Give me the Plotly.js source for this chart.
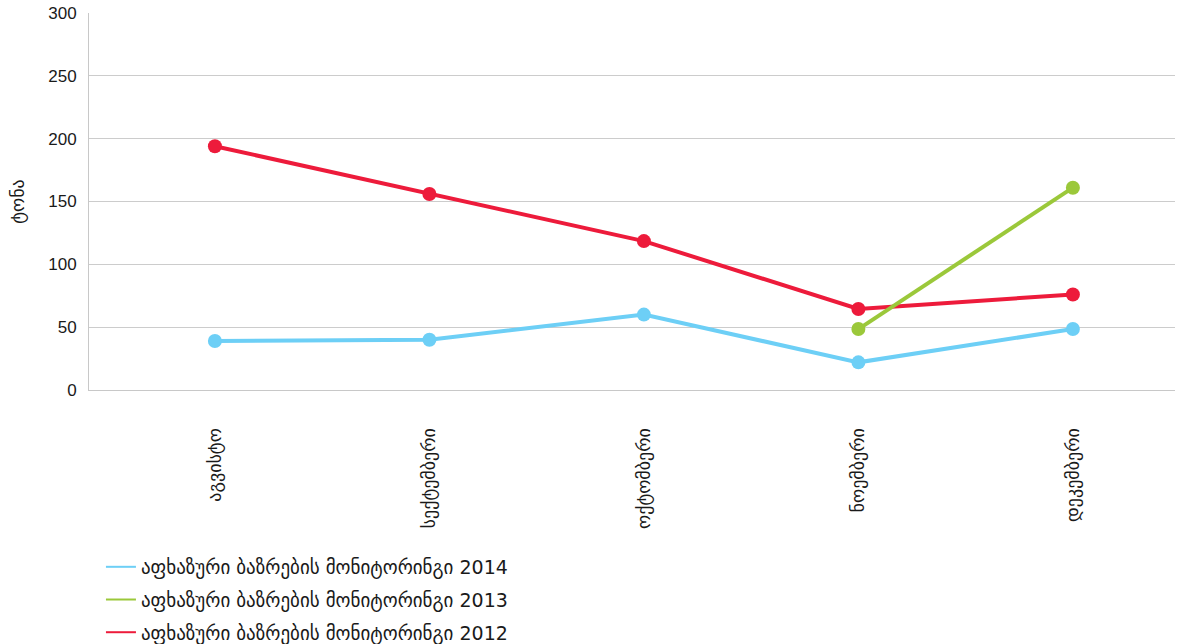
<!DOCTYPE html>
<html>
<head>
<meta charset="utf-8">
<script src="https://cdn.plot.ly/plotly-3.0.1.min.js"></script>
<style>
  html, body { margin: 0; padding: 0; background: #fff; }
  #chart { width: 1179px; height: 644px; }
</style>
</head>
<body>
<div id="chart"></div>
<script>
// months (x categories)
var months = ['აგვისტო', 'სექტემბერი', 'ოქტომბერი', 'ნოემბერი', 'დეკემბერი'];

// tonnes per month
var months2013 = ['ნოემბერი', 'დეკემბერი'];
var values2014 = [39, 40, 60, 22, 48.5];
var values2013 = [48.5, 161];
var values2012 = [194, 156, 118.5, 64.5, 76];

var seriesNames = [
  'აფხაზური ბაზრების მონიტორინგი 2014',
  'აფხაზური ბაზრების მონიტორინგი 2013',
  'აფხაზური ბაზრების მონიტორინგი 2012'
];
var colors = ['#6dcff6', '#9bc83a', '#ed1b3b'];

var font = 'Liberation Sans, Arial, sans-serif';
var geoFont = 'DejaVu Sans, sans-serif';

function line(x, y, color) {
  return {
    x: x, y: y, showlegend: false,
    type: 'scatter', mode: 'lines+markers',
    line: {color: color, width: 4},
    marker: {color: color, size: 14},
    hoverinfo: 'x+y'
  };
}

// legend-only entries: thin line, no marker
function key(name, color, rank) {
  return {
    x: [null], y: [null], name: name, legendrank: rank,
    legendgroup: 'g' + rank,
    type: 'scatter', mode: 'lines',
    line: {color: color, width: 2}
  };
}

// drawn order: 2012 first, then 2013 (crosses over red), then 2014
var data = [
  line(months, values2012, colors[2]),
  line(months2013, values2013, colors[1]),
  line(months, values2014, colors[0]),
  key(seriesNames[0], colors[0], 1),
  key(seriesNames[1], colors[1], 2),
  key(seriesNames[2], colors[2], 3)
];

var layout = {
  width: 1179,
  height: 644,
  margin: {l: 89, r: 4, t: 13, b: 254, autoexpand: false},
  paper_bgcolor: '#fff',
  plot_bgcolor: '#fff',
  font: {family: font, size: 16, color: '#1a1a1a'},
  showlegend: true,
  legend: {
    x: 0.011, y: -0.419, xanchor: 'left', yanchor: 'top',
    orientation: 'v',
    traceorder: 'grouped',
    tracegroupgap: 5,
    itemwidth: 30,
    font: {family: geoFont, size: 19, color: '#1a1a1a'}
  },
  xaxis: {
    type: 'category',
    categoryorder: 'array',
    categoryarray: months,
    range: [-0.587, 4.476],
    automargin: false,
    showgrid: false,
    zeroline: false,
    showline: true,
    linecolor: '#c8c8c8',
    linewidth: 1,
    ticks: '',
    tickangle: -90,
    ticklabelstandoff: 30,
    tickfont: {family: geoFont, size: 18, color: '#1a1a1a'}
  },
  yaxis: {
    range: [0, 300],
    dtick: 50,
    automargin: false,
    showgrid: true,
    gridcolor: '#cccccc',
    gridwidth: 1,
    zeroline: false,
    showline: true,
    linecolor: '#c8c8c8',
    linewidth: 1,
    ticks: '',
    ticklabelstandoff: 8,
    tickfont: {family: font, size: 17, color: '#1a1a1a'},
    title: {text: 'ტონა', font: {family: geoFont, size: 18, color: '#1a1a1a'}, standoff: 18}
  }
};

Plotly.newPlot('chart', data, layout, {displayModeBar: false, staticPlot: true});
</script>
</body>
</html>
